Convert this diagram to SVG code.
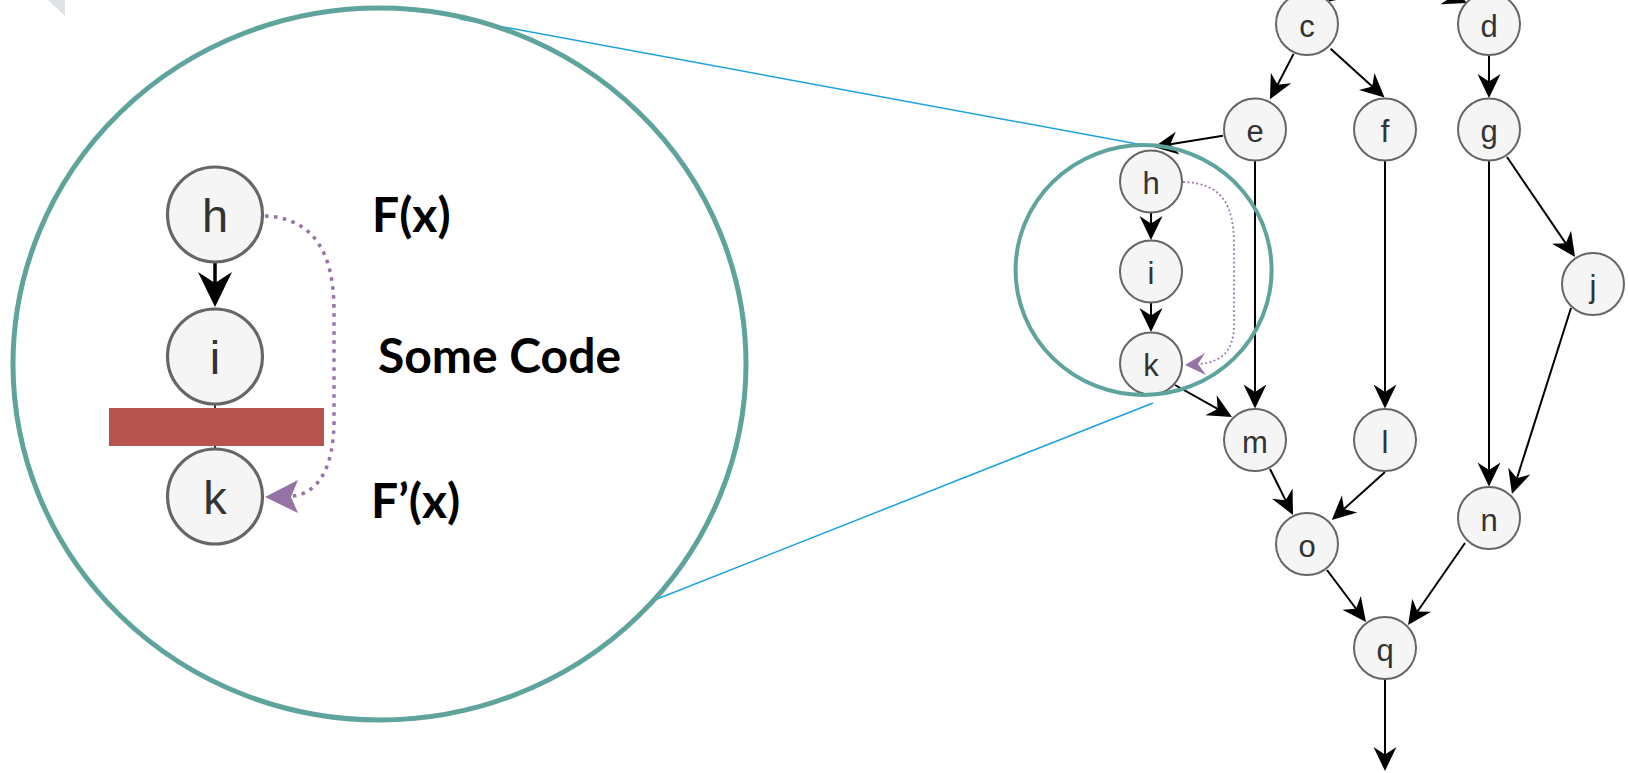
<svg xmlns="http://www.w3.org/2000/svg" width="1628" height="773" viewBox="0 0 1628 773">
<style>
.node circle{fill:#f5f5f5;stroke:#666666;stroke-width:2}
.node text{font-family:"Liberation Sans",Arial,Helvetica,sans-serif;font-size:31px;fill:#333333;text-anchor:middle}
.big circle{fill:#f5f5f5;stroke:#666666;stroke-width:3.2}
.big text{font-family:"Liberation Sans",Arial,Helvetica,sans-serif;font-size:47px;fill:#333333;text-anchor:middle}
.edge{fill:none;stroke:#000000;stroke-width:2;marker-end:url(#arr)}
.lens{fill:none;stroke:#5fa39d}
.callout{stroke:#1ba1e2;stroke-width:1.5;fill:none}
.label{font-family:Lato,"Open Sans",sans-serif;font-weight:bold;font-size:48px;fill:#000000}
.dot{fill:none;stroke:#9673a6}
</style>
<defs>
<marker id="arr" viewBox="-25 -12 26 24" refX="-15" refY="0" markerWidth="26" markerHeight="24" markerUnits="userSpaceOnUse" orient="auto">
<path d="M0,0 L-24,-11.5 L-16.5,0 L-24,11.5 Z" fill="#000000"/>
</marker>
<marker id="arrBig" viewBox="-36 -18 37 36" refX="-23" refY="0" markerWidth="37" markerHeight="36" markerUnits="userSpaceOnUse" orient="auto">
<path d="M0,0 L-35,-17 L-24,0 L-35,17 Z" fill="#000000"/>
</marker>
</defs>

<polygon points="48,0 65,0 65,16" fill="#dee3e8"/>

<g id="callout-lines">
<line class="callout" x1="460" y1="19" x2="1143" y2="145"/>
<line class="callout" x1="1153" y1="403" x2="652" y2="601"/>
</g>

<g id="zoom-lens">
<ellipse class="lens" cx="379.5" cy="364" rx="366.5" ry="356" stroke-width="5"/>
</g>

<g id="zoom-connectors">
<line x1="215" y1="405" x2="215" y2="448" stroke="#333333" stroke-width="2"/>
<line x1="215" y1="262" x2="215" y2="284" stroke="#000000" stroke-width="3.5" marker-end="url(#arrBig)"/>
<path class="dot" d="M265,216 C315,218 334,255 334,310 L334,420 C334,468 318,494 292,496" stroke-width="3.5" stroke-dasharray="3.5 5.5"/>
<polygon points="265,497 298,480 291,497 298,513" fill="#9673a6"/>
</g>

<g id="zoom-h" class="big"><circle cx="215" cy="214.5" r="47.5"/><text x="215" y="231.5">h</text></g>
<g id="zoom-i" class="big"><circle cx="215" cy="356.5" r="47.5"/><text x="215" y="373.5">i</text></g>
<g id="zoom-k" class="big"><circle cx="215" cy="496.5" r="47.5"/><text x="215" y="513.5">k</text></g>

<rect id="cut-bar" x="109" y="408" width="215" height="38" fill="#b85450"/>

<g id="labels">
<text class="label" x="372" y="232">F(x)</text>
<text class="label" x="378" y="373">Some Code</text>
<text class="label" x="371" y="518">F’(x)</text>
</g>

<g id="connectors">
<line class="edge" x1="1370" y1="-30" x2="1340.1" y2="-7.4"/>
<line class="edge" x1="1400" y1="-25" x2="1453.2" y2="-2.8"/>
<line class="edge" x1="1293.6" y1="53.9" x2="1276.9" y2="86"/>
<line class="edge" x1="1330.6" y1="48.8" x2="1373.4" y2="87.5"/>
<line class="edge" x1="1489" y1="55.5" x2="1489" y2="83"/>
<line class="edge" x1="1222.9" y1="135.7" x2="1168.8" y2="144.6"/>
<line class="edge" x1="1151" y1="213" x2="1151" y2="225"/>
<line class="edge" x1="1151" y1="303" x2="1151" y2="317"/>
<line class="edge" x1="1175" y1="385" x2="1218.9" y2="409.7"/>
<line class="edge" x1="1255" y1="161" x2="1255" y2="393.5"/>
<line class="edge" x1="1385" y1="161" x2="1385" y2="393.5"/>
<line class="edge" x1="1489" y1="161" x2="1489" y2="471.5"/>
<line class="edge" x1="1507" y1="157" x2="1566.6" y2="244.6"/>
<line class="edge" x1="1571" y1="308" x2="1516.5" y2="479.7"/>
<line class="edge" x1="1270" y1="469" x2="1286.3" y2="501.6"/>
<line class="edge" x1="1385" y1="472" x2="1342.9" y2="509.9"/>
<line class="edge" x1="1327" y1="570" x2="1357" y2="610"/>
<line class="edge" x1="1465" y1="543" x2="1416.6" y2="612.7"/>
<line class="edge" x1="1385" y1="679" x2="1385" y2="756"/>
<path class="dot" d="M1183,182 C1222,183 1234,205 1234,245 L1234,325 C1234,350 1222,362 1200,364" stroke-width="1.8" stroke-dasharray="1.8 2.6"/>
<polygon points="1185,365 1205,353 1198,364 1206,375" fill="#9673a6"/>
</g>

<g id="node-c" class="node"><circle cx="1307" cy="24" r="31"/><text x="1307" y="36.5">c</text></g>
<g id="node-d" class="node"><circle cx="1489" cy="24" r="31"/><text x="1489" y="36.5">d</text></g>
<g id="node-e" class="node"><circle cx="1255" cy="129.5" r="31"/><text x="1255" y="142">e</text></g>
<g id="node-f" class="node"><circle cx="1385" cy="129.5" r="31"/><text x="1385" y="142">f</text></g>
<g id="node-g" class="node"><circle cx="1489" cy="129.5" r="31"/><text x="1489" y="142">g</text></g>
<g id="node-h" class="node"><circle cx="1151" cy="181.5" r="31"/><text x="1151" y="194">h</text></g>
<g id="node-i" class="node"><circle cx="1151" cy="271.5" r="31"/><text x="1151" y="284">i</text></g>
<g id="node-k" class="node"><circle cx="1151" cy="363.5" r="31"/><text x="1151" y="376">k</text></g>
<g id="node-j" class="node"><circle cx="1593" cy="284" r="31"/><text x="1593" y="296.5">j</text></g>
<g id="node-m" class="node"><circle cx="1255" cy="440" r="31"/><text x="1255" y="452.5">m</text></g>
<g id="node-l" class="node"><circle cx="1385" cy="440" r="31"/><text x="1385" y="452.5">l</text></g>
<g id="node-n" class="node"><circle cx="1489" cy="518" r="31"/><text x="1489" y="530.5">n</text></g>
<g id="node-o" class="node"><circle cx="1307" cy="544" r="31"/><text x="1307" y="556.5">o</text></g>
<g id="node-q" class="node"><circle cx="1385" cy="648" r="31"/><text x="1385" y="660.5">q</text></g>

<g id="lens-small">
<ellipse class="lens" cx="1143.6" cy="270" rx="128" ry="125" stroke-width="4"/>
</g>
</svg>
